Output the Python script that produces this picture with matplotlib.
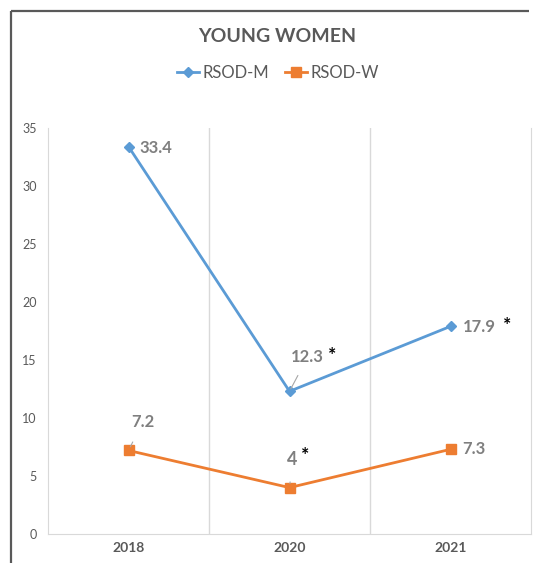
import matplotlib
matplotlib.use("Agg")
import matplotlib.pyplot as plt
from matplotlib.lines import Line2D

plt.rcParams['font.family'] = ['Lato', 'DejaVu Sans']

years = ["2018", "2020", "2021"]
rsod_m = [33.4, 12.3, 17.9]
rsod_w = [7.2, 4.0, 7.3]
m_labels = ["33.4", "12.3", "17.9"]
w_labels = ["7.2", "4", "7.3"]
y_ticks = [0, 5, 10, 15, 20, 25, 30, 35]

W, H = 533, 563
fig = plt.figure(figsize=(W / 100, H / 100), dpi=100)
fig.patch.set_facecolor('white')

ax = fig.add_axes([48 / W, (H - 534) / H, (531 - 48) / W, (534 - 128) / H])
x = list(range(len(years)))

blue = '#5B9BD5'
orange = '#ED7D31'
lab = '#7F7F7F'

ax.plot(x, rsod_m, color=blue, lw=2.0, marker='D', ms=5, label='RSOD-M', zorder=3)
ax.plot(x, rsod_w, color=orange, lw=2.0, marker='s', ms=6.5, label='RSOD-W', zorder=3)

ax.set_xlim(-0.5, 2.5)
ax.set_ylim(0, 35)
ax.set_xticks(x)
ax.set_xticklabels(years, fontsize=10, fontweight='bold', color='#595959')
ax.set_yticks(y_ticks)
ax.set_yticklabels([str(t) for t in y_ticks], fontsize=9, color='#595959')
ax.tick_params(axis='both', length=0)
ax.tick_params(axis='y', pad=8)
ax.tick_params(axis='x', pad=6)
for xv in [0.5, 1.5]:
    ax.axvline(xv, color='#D9D9D9', lw=1, zorder=1)
ax.spines['top'].set_visible(False)
ax.spines['right'].set_color('#D9D9D9')
ax.spines['left'].set_color('#D9D9D9')
ax.spines['bottom'].set_color('#D9D9D9')

fs = 12
lead = dict(arrowstyle='-', color='#A6A6A6', lw=0.8)
ax.annotate(m_labels[0], (x[0], rsod_m[0]), xytext=(11, -1), textcoords='offset pixels',
            ha='left', va='center', fontsize=fs, fontweight='bold', color=lab)
ax.annotate(m_labels[1], (x[1], rsod_m[1]), xytext=(18, 34), textcoords='offset pixels',
            ha='center', va='center', fontsize=fs, fontweight='bold', color=lab,
            arrowprops=dict(lead, shrinkA=6, shrinkB=2))
ax.annotate(m_labels[2], (x[2], rsod_m[2]), xytext=(12, -1), textcoords='offset pixels',
            ha='left', va='center', fontsize=fs, fontweight='bold', color=lab)
ax.annotate(w_labels[0], (x[0], rsod_w[0]), xytext=(14, 28), textcoords='offset pixels',
            ha='center', va='center', fontsize=fs, fontweight='bold', color=lab,
            arrowprops=dict(lead, shrinkA=7, shrinkB=3))
ax.annotate(w_labels[1], (x[1], rsod_w[1]), xytext=(3, 28), textcoords='offset pixels',
            ha='center', va='center', fontsize=fs + 1, fontweight='bold', color=lab,
            arrowprops=dict(lead, shrinkA=8, shrinkB=3))
ax.annotate(w_labels[2], (x[2], rsod_w[2]), xytext=(12, 0), textcoords='offset pixels',
            ha='left', va='center', fontsize=fs, fontweight='bold', color=lab)

star = dict(ha='center', va='center', fontsize=14, fontweight='bold', color='black',
            textcoords='offset pixels')
ax.annotate('*', (x[1], rsod_m[1]), xytext=(43, 36), **star)
ax.annotate('*', (x[2], rsod_m[2]), xytext=(57, 1), **star)
ax.annotate('*', (x[1], rsod_w[1]), xytext=(16, 32), **star)

fig.text(277 / W, 1 - 36 / H, 'YOUNG WOMEN', ha='center', va='center',
         fontsize=14, fontweight='bold', color='#595959')
fig.legend(loc='center', bbox_to_anchor=(278 / W, 1 - 73 / H), ncol=2, frameon=False,
           fontsize=12, handlelength=1.3, columnspacing=1.0, handletextpad=0.2,
           labelcolor='#595959')

# outer chart border: left and top edges (the rest lies outside the crop)
fig.add_artist(Line2D([11 / W, 11 / W], [0, 1 - 11 / H], transform=fig.transFigure,
                      color='#595959', lw=1.6, solid_capstyle='butt'))
fig.add_artist(Line2D([11 / W, (W - 4) / W], [1 - 11 / H, 1 - 11 / H],
                      transform=fig.transFigure, color='#595959', lw=1.6,
                      solid_capstyle='butt'))

fig.savefig('out.png', dpi=100, facecolor='white')
